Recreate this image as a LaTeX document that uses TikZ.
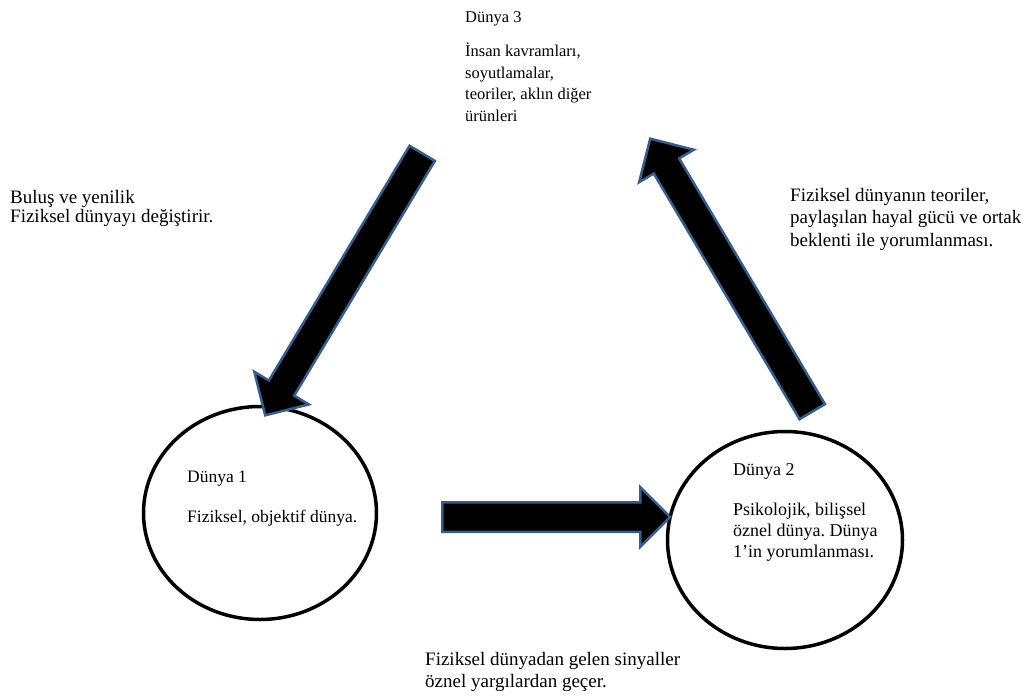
\documentclass[tikz,border=0pt]{standalone}
\usepackage{fontspec}
\setmainfont{Liberation Serif}
\frenchspacing
\usetikzlibrary{shapes,arrows,calc,positioning}
\definecolor{arrowblue}{RGB}{56,93,138}

\begin{document}
\begin{tikzpicture}[x=1pt, y=-1pt,
      world/.style={draw, ellipse, line width=3.5pt, inner sep=0pt},
      note/.style={anchor=north west, align=left, inner sep=0pt,
          font=\fontsize{19}{22}\selectfont},
      blockarrow/.style={single arrow, draw=arrowblue, fill=black,
          line width=2.5pt, inner xsep=0pt, inner ysep=13.5pt,
          single arrow head extend=15pt}]
      \useasboundingbox (0,0) rectangle (1025,698);

      % the two worlds
      \node[world, minimum width=233pt, minimum height=213pt] (w1) at (260,513) {};
      \node[world, minimum width=235pt, minimum height=217pt] (w2) at (785,540) {};

      \coordinate (tail1) at (435,517);
      \coordinate (tip1) at ($(tail1 -| w2.west)+(-3,0)$);
      \coordinate (tail2) at (816,418);
      \coordinate (tip2) at (654,145);
      \coordinate (tail3) at (426,147);
      \coordinate (tip3) at (269,409);

      % block arrows
      \path let \p1=($(tip1)-(tail1)$), \n1={atan2(\y1,\x1)}, \n2={veclen(\x1,\y1)} in
          node[blockarrow, minimum height=\n2, rotate=\n1] (a12) at ($(tail1)!0.5!(tip1)$) {};
      \path let \p1=($(tip2)-(tail2)$), \n1={atan2(\y1,\x1)}, \n2={veclen(\x1,\y1)} in
          node[blockarrow, single arrow head extend=17pt, minimum height=\n2, rotate=\n1] (a23) at ($(tail2)!0.5!(tip2)$) {};
      \path let \p1=($(tip3)-(tail3)$), \n1={atan2(\y1,\x1)}, \n2={veclen(\x1,\y1)} in
          node[blockarrow, single arrow head extend=17pt, minimum height=\n2, rotate=\n1] (a31) at ($(tail3)!0.5!(tip3)$) {};

      % texts
      \node[note, font=\fontsize{16.5}{21.5}\selectfont] (d3) at (465,11)
          {Dünya 3\\[13pt] İnsan kavramları,\\ soyutlamalar,\\ teoriler, aklın diğer\\ ürünleri};
      \node[note, font=\fontsize{17.5}{21}\selectfont] (d1) at (187,471)
          {Dünya 1\\[19pt] Fiziksel, objektif dünya.};
      \node[note, font=\fontsize{18}{21}\selectfont] (d2) at (733,463)
          {Dünya 2\\[19pt] Psikolojik, bilişsel\\ öznel dünya. Dünya\\ 1’in yorumlanması.};
      \node[note, font=\fontsize{19}{19}\selectfont] (inv) at (10,190)
          {Buluş ve yenilik\\ Fiziksel dünyayı değiştirir.};
      \node[note, font=\fontsize{19}{22.5}\selectfont] (intp) at (790,188)
          {Fiziksel dünyanın teoriler,\\ paylaşılan hayal gücü ve ortak\\ beklenti ile yorumlanması.};
      \node[note, font=\fontsize{19}{22.5}\selectfont] (sig) at (425,652)
          {Fiziksel dünyadan gelen sinyaller\\ öznel yargılardan geçer.};
\end{tikzpicture}
\end{document}
